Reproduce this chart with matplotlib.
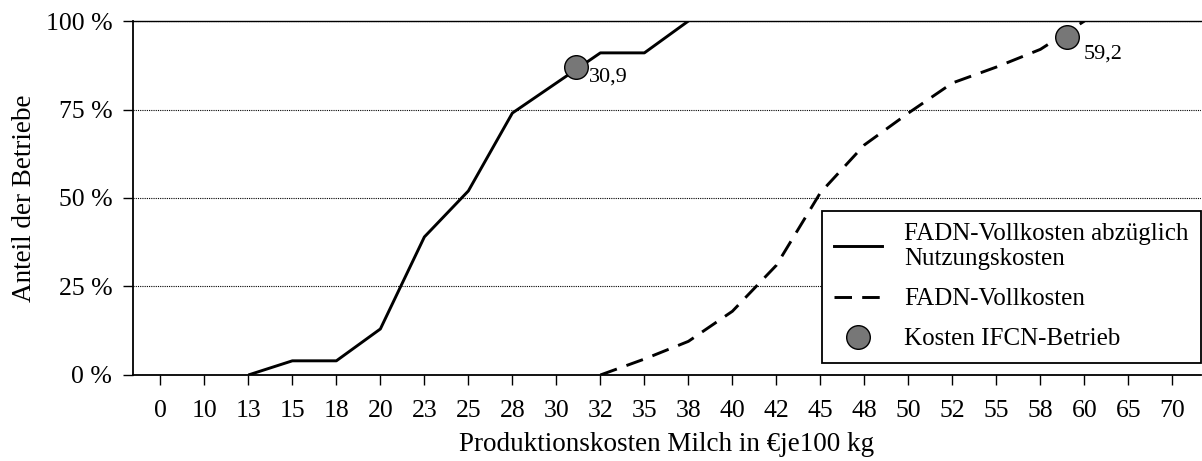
import numpy as np
from matplotlib import pyplot as plt
from matplotlib.lines import Line2D

# x axis categories (cost classes, EUR per 100 kg)
cost_classes = [0, 10, 13, 15, 18, 20, 23, 25, 28, 30, 32, 35, 38, 40, 42, 45, 48, 50, 52, 55, 58, 60, 65, 70]

# FADN full costs minus opportunity costs (cumulative share, %)
net_x = [13, 15, 18, 20, 23, 25, 28, 30, 32, 35, 38]
net_y = [0, 4, 4, 13, 39, 52, 74, 82.5, 91, 91, 100]

# FADN full costs (cumulative share, %)
full_x = [32, 35, 38, 40, 42, 45, 48, 50, 52, 55, 58, 60]
full_y = [0, 4.5, 9.5, 18, 31, 51.5, 65, 74, 82.5, 87, 92, 100]

# IFCN farm costs
ifcn_cost = [30.9, 59.2]
ifcn_share = [87, 95.5]

plt.rcParams['font.family'] = ['Liberation Serif', 'DejaVu Serif']
plt.rcParams['axes.linewidth'] = 1.3

idx = np.arange(len(cost_classes))
def pos(vals):
    return np.interp(vals, cost_classes, idx)

fig = plt.figure(figsize=(12.02, 4.61), dpi=100)
ax = fig.add_axes([0.1107, 0.1866, 0.8885, 0.7678])

dash = (0, (6, 3.5))
ax.plot(pos(net_x), net_y, color='black', linewidth=2.1, solid_capstyle='butt')
ax.plot(pos(full_x), full_y, color='black', linewidth=2.1, linestyle=dash)
ax.plot(pos(ifcn_cost), ifcn_share, linestyle='none', marker='o', markersize=17,
        markerfacecolor='#777777', markeredgecolor='black', markeredgewidth=1, zorder=5)
label_offsets = [(9, -7), (12, -12)]
for c, s, off in zip(ifcn_cost, ifcn_share, label_offsets):
    ax.annotate(f'{c:.1f}'.replace('.', ','), (pos(c), s), xytext=off,
                textcoords='offset points', ha='left', va='center', fontsize=16)

ax.set_xlim(-0.62, len(cost_classes) - 0.35)
ax.set_ylim(0, 100)
ax.set_xticks(idx)
ax.set_xticklabels([str(c) for c in cost_classes], fontsize=18.5)
ax.set_yticks([0, 25, 50, 75, 100])
ax.set_yticklabels(['0 %', '25 %', '50 %', '75 %', '100 %'], fontsize=18.5)
ax.tick_params(axis='both', direction='out', length=7, width=1)
ax.tick_params(axis='y', pad=8)
ax.tick_params(axis='x', pad=11)
ax.spines['right'].set_visible(False)
ax.spines['top'].set_linewidth(1)
ax.yaxis.grid(True, color='black', linestyle=(0, (1, 1)), linewidth=0.8)
ax.set_axisbelow(True)

ax.set_xlabel('Produktionskosten Milch in €je100 kg', fontsize=19.5, labelpad=7)
ax.set_ylabel('Anteil der Betriebe', fontsize=19.5, labelpad=6)

handles = [
    Line2D([], [], color='black', linewidth=2.1),
    Line2D([], [], color='black', linewidth=2.1, linestyle=dash),
    Line2D([], [], linestyle='none', marker='o', markersize=17,
           markerfacecolor='#777777', markeredgecolor='black', markeredgewidth=1),
]
labels = ['FADN-Vollkosten abzüglich\nNutzungskosten', 'FADN-Vollkosten', 'Kosten IFCN-Betrieb']
leg = ax.legend(handles, labels, loc='lower right', bbox_to_anchor=(1.0, 0.034),
                borderaxespad=0, fontsize=18, frameon=True, fancybox=False,
                edgecolor='black', framealpha=1, handlelength=1.9, handletextpad=0.9,
                borderpad=0.5, labelspacing=0.7)
leg.get_frame().set_linewidth(1.3)

fig.savefig('out.png', dpi=100)
